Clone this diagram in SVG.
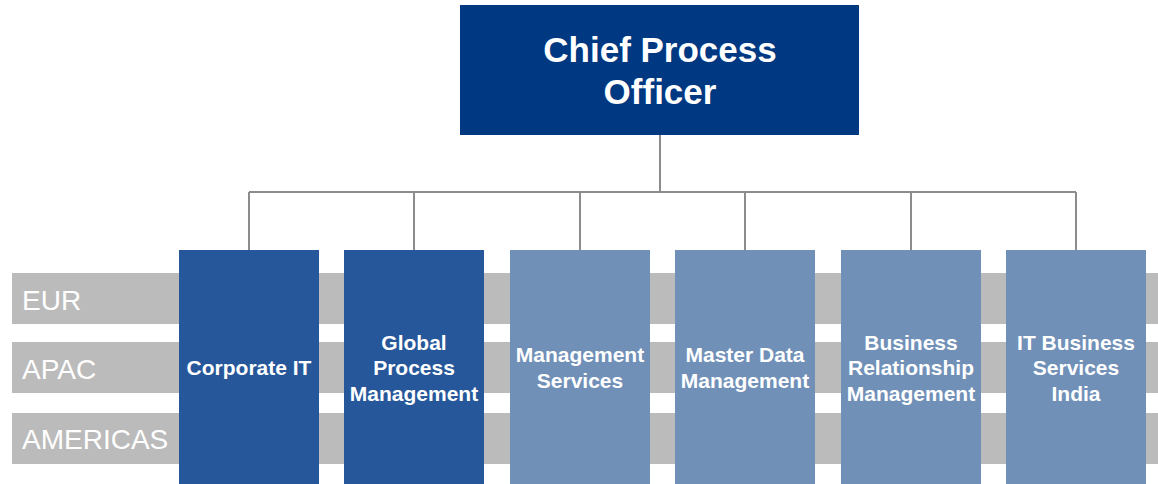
<svg xmlns="http://www.w3.org/2000/svg" width="1158" height="484" viewBox="0 0 1158 484">
<style>
.band{fill:#BBBBBB}
.bl{font-family:"Liberation Sans",Arial,sans-serif;font-size:28px;fill:#FFFFFF}
.dark{fill:#26579A}
.light{fill:#7090B8}
.t{font-family:"Liberation Sans",Arial,sans-serif;font-size:21px;font-weight:bold;fill:#FFFFFF;text-anchor:middle}
.top{font-family:"Liberation Sans",Arial,sans-serif;font-size:35px;font-weight:bold;fill:#FFFFFF;text-anchor:middle}
.c{stroke:#8C8C8C;stroke-width:2;fill:none}
</style>
<g id="bands">
<rect class="band" x="12" y="273" width="1146" height="51"/>
<rect class="band" x="12" y="342" width="1146" height="51"/>
<rect class="band" x="12" y="413" width="1146" height="51"/>
<text class="bl" x="22" y="310">EUR</text>
<text class="bl" x="22" y="379">APAC</text>
<text class="bl" x="22" y="449">AMERICAS</text>
</g>
<g id="connectors">
<path class="c" d="M660 135V192M249 192H1076M249 192V250M414 192V250M580 192V250M745 192V250M911 192V250M1076 192V250"/>
</g>
<g id="cpo">
<rect x="460" y="5" width="399" height="130" fill="#003882"/>
<text class="top" x="660" y="62">Chief Process</text>
<text class="top" x="660" y="104">Officer</text>
</g>
<g id="corporate-it">
<rect class="dark" x="179" y="250" width="140" height="234"/>
<text class="t" x="249" y="375">Corporate IT</text>
</g>
<g id="gpm">
<rect class="dark" x="344" y="250" width="140" height="234"/>
<text class="t" x="414" y="350">Global</text>
<text class="t" x="414" y="375">Process</text>
<text class="t" x="414" y="401">Management</text>
</g>
<g id="ms">
<rect class="light" x="510" y="250" width="140" height="234"/>
<text class="t" x="580" y="362">Management</text>
<text class="t" x="580" y="388">Services</text>
</g>
<g id="mdm">
<rect class="light" x="675" y="250" width="140" height="234"/>
<text class="t" x="745" y="362">Master Data</text>
<text class="t" x="745" y="388">Management</text>
</g>
<g id="brm">
<rect class="light" x="841" y="250" width="140" height="234"/>
<text class="t" x="911" y="350">Business</text>
<text class="t" x="911" y="375">Relationship</text>
<text class="t" x="911" y="401">Management</text>
</g>
<g id="itbs">
<rect class="light" x="1006" y="250" width="140" height="234"/>
<text class="t" x="1076" y="350">IT Business</text>
<text class="t" x="1076" y="375">Services</text>
<text class="t" x="1076" y="401">India</text>
</g>
</svg>
